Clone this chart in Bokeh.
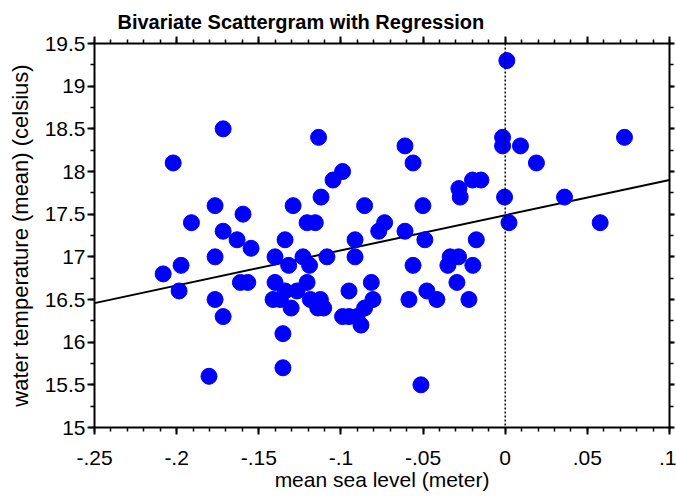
import numpy as np
from bokeh.plotting import figure
from bokeh.models import (Range1d, FixedTicker, LinearAxis, Span, ColumnDataSource,
                          CustomLabelingPolicy)
from bokeh.embed import file_html
from bokeh.resources import INLINE

# ---- data ----
sea_level = [
    0.001, -0.1717, -0.2021, -0.1136, -0.0016, -0.0016, 0.0093, 0.0726, -0.061, -0.0561,
    0.019, -0.099, -0.1048, -0.0199, -0.0148, -0.0282, -0.0274, -0.1121, -0.0004, 0.0361,
    -0.1766, -0.1291, -0.0856, -0.0501, -0.1596, -0.191, -0.1206, -0.1156, -0.0734, 0.0023,
    0.0578, -0.1717, -0.077, -0.061, -0.1632, -0.134, -0.0914, -0.0489, -0.0176, -0.1547,
    -0.1766, -0.1401, -0.1231, -0.1085, -0.0914, -0.0335, -0.0284, -0.1973, -0.1318, -0.1191,
    -0.0561, -0.0349, -0.0197, -0.2082, -0.1612, -0.1567, -0.1401, -0.1206, -0.0815, -0.0294,
    -0.1985, -0.134, -0.1267, -0.0951, -0.0477, -0.1766, -0.1413, -0.1369, -0.1186, -0.1125,
    -0.0805, -0.0586, -0.0416, -0.0221, -0.1303, -0.1141, -0.1105, -0.0856, -0.1717, -0.099,
    -0.0951, -0.0902, -0.0878, -0.1353, -0.1353, -0.1803, -0.0513,
]
water_temp = [
    19.3, 18.5, 18.1, 18.4, 18.4, 18.3, 18.3, 18.4, 18.3, 18.1,
    18.1, 18.0, 17.9, 17.9, 17.9, 17.8, 17.7, 17.7, 17.7, 17.7,
    17.6, 17.6, 17.6, 17.6, 17.5, 17.4, 17.4, 17.4, 17.4, 17.4,
    17.4, 17.3, 17.3, 17.3, 17.2, 17.2, 17.2, 17.2, 17.2, 17.1,
    17.0, 17.0, 17.0, 17.0, 17.0, 17.0, 17.0, 16.9, 16.9, 16.9,
    16.9, 16.9, 16.9, 16.8, 16.7, 16.7, 16.7, 16.7, 16.7, 16.7,
    16.6, 16.6, 16.6, 16.6, 16.6, 16.5, 16.5, 16.5, 16.5, 16.5,
    16.5, 16.5, 16.5, 16.5, 16.4, 16.4, 16.4, 16.4, 16.3, 16.3,
    16.3, 16.3, 16.2, 16.1, 15.7, 15.6, 15.5,
]

x_ticks = [-0.25, -0.2, -0.15, -0.1, -0.05, 0.0, 0.05, 0.1]
x_tick_labels = ["-.25", "-.2", "-.15", "-.1", "-.05", "0", ".05", ".1"]
y_ticks = [15.0, 15.5, 16.0, 16.5, 17.0, 17.5, 18.0, 18.5, 19.0, 19.5]
y_tick_labels = ["15", "15.5", "16", "16.5", "17", "17.5", "18", "18.5", "19", "19.5"]
x_minor = [round(-0.25 + 0.01 * i, 2) for i in range(36)]
y_minor = [15.0 + 0.25 * i for i in range(19)]

title_text = "Bivariate Scattergram with Regression"
x_label = "mean sea level (meter)"
y_label = "water temperature (mean) (celsius)"

FONT = "Liberation Sans"

# regression fit from the data
slope, intercept = np.polyfit(sea_level, water_temp, 1)
x0, x1 = -0.25, 0.1

p = figure(
    width=676, height=497,
    x_range=Range1d(x0, x1), y_range=Range1d(15, 19.5),
    output_backend="svg", toolbar_location=None,
    min_border_left=94, min_border_right=7, min_border_top=43, min_border_bottom=70,
    background_fill_color="white", border_fill_color="white",
)
p.outline_line_color = None
p.grid.visible = False

p.title.text = title_text
p.title.text_font = FONT
p.title.text_font_style = "bold"
p.title.text_font_size = "20px"
p.title.text_color = "black"
p.title.align = "left"
p.title.offset = 23
p.title.standoff = 8

xt = FixedTicker(ticks=x_ticks, minor_ticks=x_minor)
yt = FixedTicker(ticks=y_ticks, minor_ticks=y_minor)


def style_axis(ax):
    ax.axis_line_width = 2
    ax.axis_line_color = "black"
    ax.major_tick_line_width = 2
    ax.minor_tick_line_width = 1.5
    ax.major_tick_in = 0
    ax.major_tick_out = 7
    ax.minor_tick_in = 0
    ax.minor_tick_out = 4
    ax.major_label_text_font = FONT
    ax.major_label_text_font_size = "21px"
    ax.major_label_text_color = "black"
    ax.axis_label_text_font = FONT
    ax.axis_label_text_font_size = "21px"
    ax.axis_label_text_font_style = "normal"
    ax.axis_label_text_color = "black"


xa = p.xaxis[0]
xa.ticker = xt
xa.major_label_overrides = dict(zip(x_ticks, x_tick_labels))
xa.axis_label = x_label
style_axis(xa)
xa.major_label_standoff = 16
xa.axis_label_standoff = 0

ya = p.yaxis[0]
ya.ticker = yt
ya.major_label_overrides = dict(zip(y_ticks, y_tick_labels))
ya.axis_label = y_label
style_axis(ya)
ya.axis_label_text_font_size = "22px"
ya.major_label_standoff = 2
ya.axis_label_standoff = 9


def hide_labels(ax):
    ax.major_label_text_font_size = "0px"
    ax.major_label_standoff = 0
    ax.axis_label_standoff = 0
    ax.major_label_policy = CustomLabelingPolicy(code="for (const i of []) { yield i }")


top = LinearAxis(ticker=xt)
style_axis(top)
hide_labels(top)
p.add_layout(top, "above")

right = LinearAxis(ticker=yt)
style_axis(right)
right.major_tick_out = 5
hide_labels(right)
p.add_layout(right, "right")

# regression line
p.line([x0, x1], [intercept + slope * x0, intercept + slope * x1],
       line_color="black", line_width=2)

# reference line at zero
p.add_layout(Span(location=0, dimension="height", line_color="black",
                  line_width=1.5, line_dash="2 2"))

src = ColumnDataSource(dict(x=sea_level, y=water_temp))
p.scatter("x", "y", source=src, size=16, fill_color="#0000FF", line_color="#0000FF")

open("out.html", "w").write(file_html(p, INLINE))
